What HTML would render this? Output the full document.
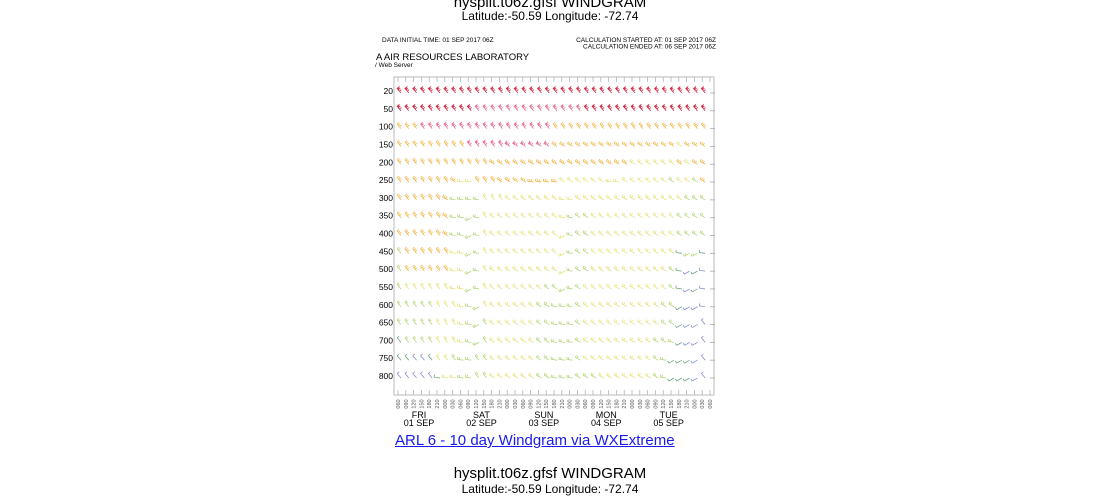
<!DOCTYPE html>
<html><head><meta charset="utf-8">
<style>
body{margin:0;background:#fff;width:1100px;height:500px;overflow:hidden;font-family:"Liberation Sans",sans-serif;}
.t{position:absolute;left:0;width:1100px;text-align:center;color:#000;}
</style></head>
<body>
<div class="t" style="top:-6px;font-size:15px;">hysplit.t06z.gfsf WINDGRAM</div>
<div class="t" style="top:9px;font-size:12px;">Latitude:-50.59 Longitude: -72.74</div>
<svg id="chart" width="1100" height="430" style="position:absolute;left:0;top:0" font-family="Liberation Sans, sans-serif">
<text x="382" y="42" font-size="6.5">DATA INITIAL TIME: 01 SEP 2017 06Z</text>
<text x="716" y="42" font-size="6.5" text-anchor="end">CALCULATION STARTED AT: 01 SEP 2017 06Z</text>
<text x="716" y="48.5" font-size="6.5" text-anchor="end">CALCULATION ENDED AT: 06 SEP 2017 06Z</text>
<text x="376" y="60" font-size="9.5">A AIR RESOURCES LABORATORY</text>
<text x="375" y="67" font-size="6.5">/ Web Server</text>
<rect x="394" y="77" width="320" height="318" fill="none" stroke="#aaa" stroke-width="0.8"/>
<g id="ticks"></g><g id="barbs"></g><g id="ylab"></g><g id="xlab"></g>
</svg>
<a href="#" style="position:absolute;left:395px;top:432px;font-size:15px;color:#1a1aee;text-decoration:underline;">ARL 6 - 10 day Windgram via WXExtreme </a>
<div class="t" style="top:465px;font-size:15px;">hysplit.t06z.gfsf WINDGRAM</div>
<div class="t" style="top:482px;font-size:12px;">Latitude:-50.59 Longitude: -72.74</div>
<script>
const levels=[20,50,100,150,200,250,300,350,400,450,500,550,600,650,700,750,800];
const hours=["06","09","12","15","18","21","00","03"];
const days=[["FRI","01 SEP"],["SAT","02 SEP"],["SUN","03 SEP"],["MON","04 SEP"],["TUE","05 SEP"]];
const speedRows=[
"77777777777777777777777777777777777777770",
"77777777776666666666666677777777777777770",
"55566666666666666666555555555555555555550",
"55555555566666666666555555555555555545550",
"55555555555555555555555555555544444454550",
"55555555445555555555544444444444444344350",
"55555553333444444444444444444444444443330",
"55555553333444444444443334444444444433330",
"55555553333444444444443334444444444433330",
"35555554433444444444443334444444444423320",
"35555554433444444444443334444444444321210",
"34444444433444444443333344444444444321210",
"33333444433444444433333344444444443321110",
"33333444433344444433333344444444443321110",
"23333444433344444433333344444444433321110",
"22112443333344444433333344444444433222110",
"11111244333344444433333333444444433222110"];
const dirRows=[
"nnnnnnnnnnnnnnnnnnnnnnnnnnnnnnnnnnnnnnnnf",
"nnnnnnnnnnnnnnnnnnnnnnnnnnnnnnnnnnnnnnnnf",
"nnnnnnnnnnnnnnnnnnnnnnnnnnnnnnnnnnnnnnnnf",
"nnnnnnnnnnnnnnmmmmmmmmmmmmmmmmmmmmmmmmmmf",
"nnnnnnnnnnnnmmmmmmmmmmmmmmmmmmmmmmmmmmmmf",
"nnnnnnnmffnnnmmmmffffmmmmmmffmmmmmmmmmmmf",
"nnnnnnmffffnnnmmmmmmmffmmmmmmmmmmmmmmmmmf",
"nnnnnnmffufnmmmmmmmmmffmmmmmmmmmmmmmmmmmf",
"nnnnnnmffufnmmmmmmmmmufmmmmmmmmmmmmmmmmmf",
"nnnnnnnffufnmmmmmmmmmufmmmmmmmmmmmmmfuuff",
"nnnnnnnffufnmmmmmmmmmufmmmmmmmmmmmmmfuuff",
"nnnnnnnffufnmmmmmmmmmufmmmmmmmmmmmmmfuuff",
"nnnnnnnnffunmmmmmmmmfffmmmmmmmmmmmmmuuuff",
"nnnnnnnnffunmmmmmmmmfffmmmmmmmmmmmmmuuunf",
"nnnnnnnnffunmmmmmmmmfffmmmmmmmmmmmmfuuunf",
"nnnnnnnnffnnmmmmmmmmfffmmmmmmmmmmmfuuuunn",
"nnnnnfffffnnmmmmmmmmfffmmmmmmmmmmmfuuuunn"];
const colors={"1":"#8c8cd8","2":"#6fa487","3":"#b8d47a","4":"#e6e27e","5":"#f2b84e","6":"#e67898","7":"#d4304e","0":"#aaa"};
const ang={n:-130,m:-150,f:-172,u:150};
const ns="http://www.w3.org/2000/svg";
const x0=398,x1=710,yTop=91,yBot=376;
const xs=i=>x0+i*(x1-x0)/40;
const ys=j=>yTop+j*(yBot-yTop)/(levels.length-1);
function mk(t,a,p){const e=document.createElementNS(ns,t);for(const k in a)e.setAttribute(k,a[k]);p.appendChild(e);return e;}
const gT=document.getElementById('ticks'),gB=document.getElementById('barbs'),gY=document.getElementById('ylab'),gX=document.getElementById('xlab');
for(let i=0;i<=40;i++){
  const x=xs(i);
  const t1=mk('line',{x1:x,x2:x,y1:77,y2:82,stroke:'#aaa','stroke-width':0.7},gT);
  
  
  const t2=mk('line',{x1:x,x2:x,y1:390,y2:395,stroke:'#aaa','stroke-width':0.7},gT);
  
  
  const tx=mk('text',{x:0,y:0,'font-size':5.5,transform:`translate(${x+2},404) rotate(-90)`,'text-anchor':'middle',fill:'#555'},gX);
  tx.textContent=hours[i%8]+"0";
  
  
}
days.forEach((d,k)=>{
  const cx=xs(k*8+2.7);
  const a=mk('text',{x:cx,y:418,'font-size':9,'text-anchor':'middle'},gX);a.textContent=d[0];
  
  
  const b=mk('text',{x:cx,y:426,'font-size':9,'text-anchor':'middle'},gX);b.textContent=d[1];
  
  
});
levels.forEach((lv,j)=>{
  const y=ys(j);
  const t=mk('text',{x:393,y:y+3,'font-size':8.5,'text-anchor':'end'},gY);t.textContent=lv;
  
  
  const yb=y+2;
  for(let i=0;i<=40;i++){
    const c=speedRows[j][i],d=dirRows[j][i];
    const col=colors[c];
    const x=xs(i)+3;
    const g=mk('g',{stroke:col,'stroke-width':0.8,fill:col},gB);
    
    
    if(c==="0"){mk('line',{x1:x-3,x2:x+2,y1:yb,y2:yb},g);continue;}
    const a=ang[d]*Math.PI/180,L=6;
    const ex=x+L*Math.cos(a),ey=yb+L*Math.sin(a);
    mk('line',{x1:x,y1:yb,x2:ex,y2:ey},g);
    const n=Math.min(3,Math.ceil(+c/2));
    for(let k=0;k<n;k++){
      const f=1-k*0.3,px=x+L*f*Math.cos(a),py=yb+L*f*Math.sin(a);
      const qx=px+2.5*Math.cos(a+1.6),qy=py+2.5*Math.sin(a+1.6);
      if(+c>=6&&k===0){
        const rx=x+L*(f-0.3)*Math.cos(a),ry=yb+L*(f-0.3)*Math.sin(a);
        mk('polygon',{points:`${px},${py} ${qx},${qy} ${rx},${ry}`},g);
      } else mk('line',{x1:px,y1:py,x2:qx,y2:qy},g);
    }
  }
});
</script>
</body></html>
